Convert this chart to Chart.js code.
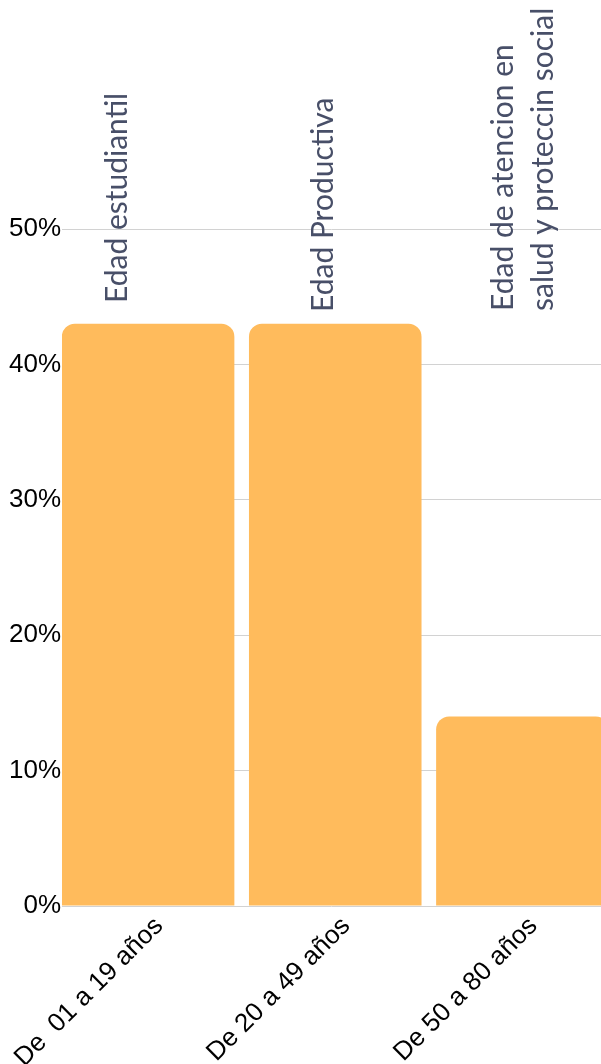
<!DOCTYPE html>
<html>
<head>
<meta charset="utf-8">
<script src="https://cdn.jsdelivr.net/npm/chart.js@4/dist/chart.umd.min.js"></script>
<style>
  html, body { margin: 0; padding: 0; background: #fff; overflow: hidden; }
  #wrap { width: 601px; height: 1064px; position: relative; }
</style>
</head>
<body>
<div id="wrap"><canvas id="myChart"></canvas></div>
<script>
// data
const categories = ['De  01 a 19 años', 'De 20 a 49 años', 'De 50 a 80 años'];
const shares = [0.43, 0.43, 0.14];
const groupNames = [['Edad estudiantil'], ['Edad Productiva'], ['Edad de atencion en', 'salud y proteccin social']];
const yTicks = [0, 0.1, 0.2, 0.3, 0.4, 0.5];

// where the group names sit (baseline x offset from bar centre, start y)
const nameDx = [-21, -2, -9];
const nameY = [303, 312, 311];

const groupNamesPlugin = {
  id: 'groupNames',
  afterDraw(chart) {
    const ctx = chart.ctx;
    const xs = chart.scales.x;
    ctx.save();
    ctx.fillStyle = '#484f68';
    ctx.font = '30px Lato';
    ctx.textAlign = 'left';
    ctx.textBaseline = 'alphabetic';
    groupNames.forEach((lines, i) => {
      const cx = xs.getPixelForValue(i) + nameDx[i];
      lines.forEach((txt, j) => {
        ctx.save();
        ctx.translate(cx + j * 40, nameY[i]);
        ctx.rotate(-Math.PI / 2);
        ctx.fillText(txt, 0, 0);
        ctx.restore();
      });
    });
    ctx.restore();
  }
};

let ctx = document.getElementById('myChart').getContext('2d');
let myChart = new Chart(ctx, {
  type: 'bar',
  data: {
    datasets: [{
      data: shares.map((v, i) => ({ x: i, y: v })),
      backgroundColor: '#ffbb5c',
      borderWidth: 0,
      borderRadius: { topLeft: 13, topRight: 13 },
      borderSkipped: 'bottom',
      barPercentage: 0.922,
      categoryPercentage: 1
    }]
  },
  options: {
    responsive: true,
    maintainAspectRatio: false,
    animation: false,
    layout: { padding: { top: 229, left: 0, right: 0, bottom: 0 } },
    plugins: { legend: { display: false }, tooltip: { enabled: false } },
    scales: {
      x: {
        type: 'linear',
        min: -0.46,
        max: 2.42,
        offset: false,
        grid: { display: false },
        border: { display: false },
        afterBuildTicks: s => { s.ticks = categories.map((c, i) => ({ value: i })); },
        afterFit: s => { s.height = 158; s.paddingLeft = 0; s.paddingRight = 0; },
        ticks: {
          minRotation: 45,
          maxRotation: 45,
          autoSkip: false,
          padding: -3,
          labelOffset: 11,
          color: '#000',
          font: { family: 'Liberation Sans', size: 26 },
          callback: v => categories[v]
        }
      },
      y: {
        min: 0,
        max: 0.5,
        grid: { color: '#d2d2d2', lineWidth: 1, drawTicks: false },
        border: { display: false },
        afterBuildTicks: s => { s.ticks = yTicks.map(v => ({ value: v })); },
        afterFit: s => { s.width = 62; },
        ticks: {
          padding: 1,
          color: '#000',
          font: { family: 'Liberation Sans', size: 26 },
          callback: v => Math.round(v * 100) + '%'
        }
      }
    }
  },
  plugins: [groupNamesPlugin]
});
</script>
</body>
</html>
